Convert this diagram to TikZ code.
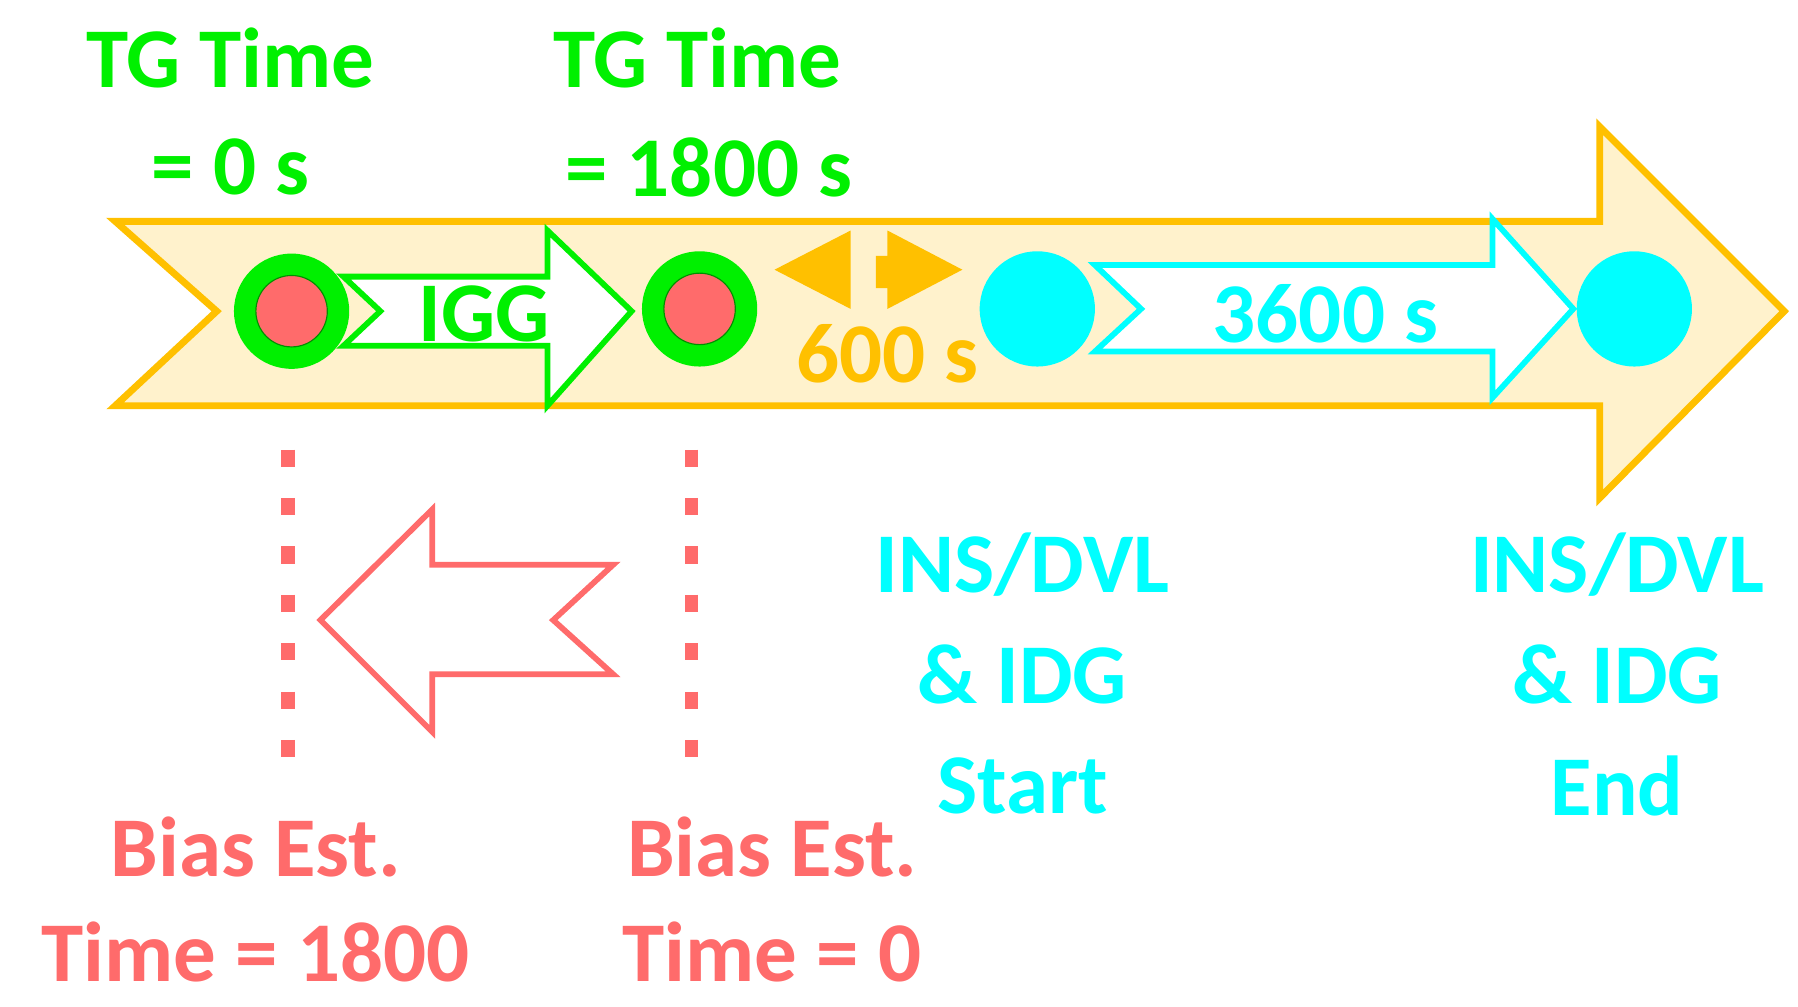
\documentclass[tikz,border=0pt]{standalone}
\usepackage{fontspec}
\setmainfont{Carlito}
\definecolor{gr}{HTML}{00F000}
\definecolor{cy}{HTML}{00FFFF}
\definecolor{rd}{HTML}{FF6B6B}
\definecolor{org}{HTML}{FFC000}
\definecolor{ly}{HTML}{FFF2CC}
\begin{document}
\begin{tikzpicture}[x=0.02cm,y=-0.02cm,
  lbl/.style={font=\bfseries\fontsize{42}{46}\selectfont,inner sep=0pt},
  dots/.style={rd,line width=0.24cm,dash pattern=on 0.3cm off 0.54cm}]
\useasboundingbox (0,0) rectangle (1560,873);
\draw[org,line width=6*0.02cm,fill=ly,line join=miter] (100,192) -- (1388,192) -- (1388,110) -- (1548,270) -- (1388,432) -- (1388,352) -- (100,352) -- (188,270) -- cycle;
\draw[gr,line width=0.1cm,fill=white] (298,240) -- (475,240) -- (475,200) -- (548,270) -- (475,352) -- (475,300) -- (298,300) -- (330,270) -- cycle;
\node[lbl,gr] (igg) at (420,272) {IGG};
\fill[gr] (253,270) circle (50);
\draw[fill=rd,draw=black!40!gr,line width=0.02cm] (253,270) circle (31);
\node (c1) at (253,270) {};
\fill[gr] (607,268) circle (50);
\draw[fill=rd,draw=black!40!gr,line width=0.02cm] (607,268) circle (31);
\node (c2) at (607,268) {};
\fill[org] (672,234) -- (738,200) -- (738,268) -- cycle;
\fill[org] (760,222) -- (770,222) -- (770,200) -- (835,234) -- (770,268) -- (770,250) -- (760,250) -- cycle;
\node[lbl,org] (t600) at (770,307) {600 s};
\fill[cy] (900,268) circle (50);
\fill[cy] (1418,268) circle (50);
\draw[cy,line width=0.1cm,fill=white] (950,230) -- (1295,230) -- (1295,190) -- (1365,268) -- (1295,345) -- (1295,305) -- (950,305) -- (990,268) -- cycle;
\node[lbl,cy] (t3600) at (1150,272) {3600 s};
\node[lbl,gr] (a1) at (200,50) {TG Time};
\node[lbl,gr] (a2) at (200,145) {= 0 s};
\node[lbl,gr] (b1) at (605,50) {TG Time};
\node[lbl,gr] (b2) at (615,145) {= 1800 s};
\node[lbl,cy] at (887,490) {INS/DVL};
\node[lbl,cy] at (887,585) {\& IDG};
\node[lbl,cy] at (887,682) {Start};
\node[lbl,cy] at (1403,490) {INS/DVL};
\node[lbl,cy] at (1403,585) {\& IDG};
\node[lbl,cy] at (1403,682) {End};
\draw[dots] (250,390) -- (250,675);
\draw[dots] (600,390) -- (600,675);
\draw[rd,line width=0.1cm,fill=white] (278,538) -- (375,442) -- (375,490) -- (532,490) -- (480,538) -- (532,585) -- (375,585) -- (375,635) -- cycle;
\node[lbl,rd] at (222,735) {Bias Est.};
\node[lbl,rd] at (222,826) {Time = 1800};
\node[lbl,rd] at (670,735) {Bias Est.};
\node[lbl,rd] at (670,826) {Time = 0};
\end{tikzpicture}
\end{document}
